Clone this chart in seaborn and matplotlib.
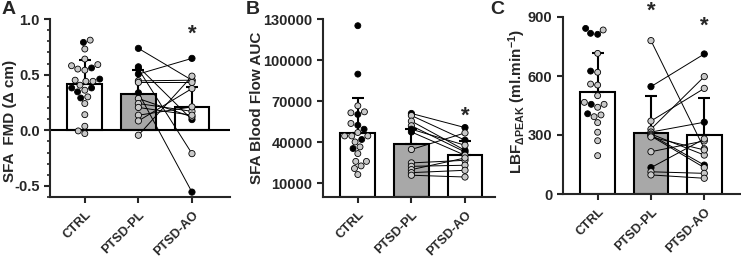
import numpy as np
import pandas as pd
import matplotlib
matplotlib.use("Agg")
import matplotlib.pyplot as plt
from matplotlib.ticker import MultipleLocator
import seaborn as sns

# --- data ---
groups = ["CTRL", "PTSD-PL", "PTSD-AO"]

# A: SFA FMD
a_ctrl = [0.79, 0.81, 0.73, 0.59, 0.54, 0.58, 0.64, 0.55, 0.56, 0.44, 0.45, 0.46, 0.44,
          0.38, 0.38, 0.36, 0.345, 0.29, 0.405, 0.30, 0.24, 0.14, 0.036, -0.006, -0.03]
a_ctrl_blk = [1, 0, 0, 0, 0, 0, 0, 0, 1, 0, 0, 1, 0,
              1, 1, 0, 1, 1, 0, 0, 0, 0, 0, 0, 0]
a_pl = [0.736, 0.57, 0.55, 0.505, 0.444, 0.43, 0.336, 0.285, 0.24, 0.205, 0.135, 0.084, -0.045]
a_pl_blk = [1, 1, 1, 1, 0, 0, 1, 0, 0, 0, 0, 0, 0]
a_ao = [0.45, 0.096, -0.21, 0.646, 0.45, 0.43, -0.556, 0.12, 0.17, 0.135, 0.21, 0.375, 0.486]
a_ao_blk = [1, 1, 0, 1, 0, 0, 1, 0, 0, 0, 0, 0, 0]
a_mean = [0.42, 0.33, 0.205]
a_sd = [0.21, 0.215, 0.185]

# B: SFA blood flow AUC
b_ctrl = [125100, 89750, 66600, 60300, 62200, 61500, 53700, 52400, 49500, 47100, 44600,
          44600, 44600, 42000, 40200, 36600, 35400, 31700, 26000, 26000, 22700, 20800, 16400]
b_ctrl_blk = [1, 1, 0, 1, 0, 0, 0, 1, 1, 0, 0,
              0, 0, 1, 0, 0, 1, 0, 0, 0, 0, 0, 0]
b_pl = [61000, 59500, 55400, 52000, 49500, 47500, 34700, 24900, 22400, 20000, 17800, 15900]
b_pl_blk = [1, 0, 0, 0, 1, 1, 0, 0, 0, 0, 0, 0]
b_ao = [50700, 41500, 34100, 32900, 37800, 30500, 46800, 26800, 23200, 28500, 19500, 14600]
b_ao_blk = [1, 1, 1, 1, 0, 0, 0, 0, 0, 0, 0, 0]
b_mean = [47100, 39000, 30500]
b_sd = [24900, 10500, 10500]

# C: LBF delta peak
c_ctrl = [842, 812, 834, 817, 715, 619, 625, 554, 559, 500, 466, 441, 456, 456,
          408, 393, 402, 363, 314, 271, 195]
c_ctrl_blk = [1, 1, 0, 1, 0, 0, 1, 0, 0, 0, 0, 0, 1, 0,
              1, 0, 0, 0, 0, 0, 0]
c_pl = [780, 546, 371, 330, 315, 305, 300, 295, 290, 215, 134, 113, 97]
c_pl_blk = [0, 1, 0, 0, 0, 0, 0, 0, 0, 0, 1, 0, 0]
c_ao = [230, 712, 537, 597, 365, 198, 147, 134, 224, 270, 280, 105, 80]
c_ao_blk = [0, 1, 0, 0, 1, 0, 1, 0, 0, 0, 0, 0, 0]
c_mean = [520, 312, 300]
c_sd = [195, 188, 190]

BAR_COLORS = ["white", "#a8a8a8", "white"]
DOT_COLORS = {"blk": "black", "gry": "#c8c8c8"}
TICK_FS = 10.5
XTICK_FS = 9.2
LABEL_FS = 11


def lab(flags):
    return ["blk" if f else "gry" for f in flags]


def draw_panel(ax, ctrl, ctrl_blk, pl, pl_blk, ao, ao_blk, means, sds):
    sns.barplot(x=groups, y=means, order=groups, hue=groups, palette=BAR_COLORS,
                legend=False, width=0.65, edgecolor="black", linewidth=1.5, ax=ax, zorder=1)
    xs = np.arange(len(groups))
    ax.errorbar(xs, means, yerr=[np.zeros(len(groups)), sds], fmt="none", ecolor="black",
                elinewidth=1.5, capsize=4, capthick=1.5, zorder=2)

    n = len(pl)
    pairs = pd.DataFrame({"pos": [groups.index("PTSD-PL")] * n + [groups.index("PTSD-AO")] * n,
                          "val": list(pl) + list(ao),
                          "subj": list(range(n)) * 2})
    sns.lineplot(data=pairs, x="pos", y="val", units="subj", estimator=None,
                 color="black", lw=0.7, ax=ax, zorder=3)

    pts = pd.DataFrame({"group": ["PTSD-PL"] * n + ["PTSD-AO"] * n,
                        "val": list(pl) + list(ao),
                        "sex": lab(pl_blk) + lab(ao_blk)})
    sns.stripplot(data=pts, x="group", y="val", hue="sex", order=groups, palette=DOT_COLORS,
                  jitter=False, size=4.5, edgecolor="black", linewidth=0.6, legend=False,
                  ax=ax, zorder=4)
    cdf = pd.DataFrame({"group": ["CTRL"] * len(ctrl), "val": ctrl, "sex": lab(ctrl_blk)})
    sns.swarmplot(data=cdf, x="group", y="val", hue="sex", order=groups, palette=DOT_COLORS,
                  size=4.3, edgecolor="black", linewidth=0.6, legend=False, ax=ax, zorder=4)

    ax.set_xticks(xs)
    ax.set_xticklabels(groups, rotation=45, ha="right", rotation_mode="anchor",
                       fontsize=XTICK_FS, fontweight="bold")
    ax.set_xlabel("")
    for s in ["top", "right"]:
        ax.spines[s].set_visible(False)
    for s in ["left", "bottom"]:
        ax.spines[s].set_linewidth(1.5)
    ax.tick_params(axis="both", which="major", length=4, width=1.5)
    ax.tick_params(axis="x", which="major", pad=4.5)
    ax.tick_params(axis="y", which="major", labelsize=TICK_FS)
    ax.tick_params(axis="y", which="minor", length=2.5, width=1.2)


sns.set_theme(style="ticks")
plt.rcParams["font.family"] = ["Liberation Sans", "DejaVu Sans"]
plt.rcParams["font.weight"] = "bold"
plt.rcParams["axes.labelweight"] = "bold"
plt.rcParams["mathtext.fontset"] = "custom"
plt.rcParams["mathtext.rm"] = "Liberation Sans:bold"
plt.rcParams["mathtext.bf"] = "Liberation Sans:bold"
plt.rcParams["mathtext.it"] = "Liberation Sans:bold"

fig = plt.figure(figsize=(7.41, 2.59), dpi=100)
W, H = 741, 259

# Panel A
axA = fig.add_axes([50 / W, 1 - 197 / H, 180 / W, 178 / H])
draw_panel(axA, a_ctrl, a_ctrl_blk, a_pl, a_pl_blk, a_ao, a_ao_blk, a_mean, a_sd)
axA.axhline(0, color="black", lw=1.5, zorder=1.5)
axA.set_ylim(-0.6, 1.0)
axA.set_xlim(-0.65, 2.71)
axA.set_yticks([-0.5, 0.0, 0.5, 1.0])
axA.set_yticklabels(["-0.5", "0.0", "0.5", "1.0"], fontweight="bold", fontsize=TICK_FS)
axA.yaxis.set_minor_locator(MultipleLocator(0.1))
axA.set_ylabel("SFA  FMD (\u0394 cm)", fontsize=LABEL_FS, fontweight="bold")
axA.yaxis.set_label_coords(-0.185, 0.43)
axA.text(2, 0.865, "*", ha="center", va="center", fontsize=16, fontweight="bold")

# Panel B
axB = fig.add_axes([323 / W, 1 - 197 / H, 172 / W, 178 / H])
draw_panel(axB, b_ctrl, b_ctrl_blk, b_pl, b_pl_blk, b_ao, b_ao_blk, b_mean, b_sd)
axB.set_ylim(0, 130000)
axB.set_xlim(-0.65, 2.56)
axB.set_yticks([10000, 40000, 70000, 100000, 130000])
axB.set_yticklabels(["10000", "40000", "70000", "100000", "130000"], fontweight="bold",
                    fontsize=TICK_FS)
axB.set_ylabel("SFA Blood Flow AUC", fontsize=LABEL_FS, fontweight="bold")
axB.yaxis.set_label_coords(-0.345, 0.5)
axB.text(2, 59000, "*", ha="center", va="center", fontsize=16, fontweight="bold")

# Panel C
axC = fig.add_axes([563 / W, 1 - 194 / H, 177 / W, 177 / H])
draw_panel(axC, c_ctrl, c_ctrl_blk, c_pl, c_pl_blk, c_ao, c_ao_blk, c_mean, c_sd)
axC.set_ylim(0, 900)
axC.set_xlim(-0.65, 2.67)
axC.set_yticks([0, 300, 600, 900])
axC.set_yticklabels(["0", "300", "600", "900"], fontweight="bold", fontsize=TICK_FS)
axC.set_ylabel(r"LBF$_{\Delta\mathrm{PEAK}}$ (ml.min$^{-1}$)", fontsize=LABEL_FS,
               fontweight="bold")
axC.yaxis.set_label_coords(-0.2, 0.52)
axC.text(1, 928, "*", ha="center", va="center", fontsize=16, fontweight="bold", clip_on=False)
axC.text(2, 855, "*", ha="center", va="center", fontsize=16, fontweight="bold")

for lbl, x in [("A", 2), ("B", 246), ("C", 490)]:
    fig.text(x / W, 1 - 1 / H, lbl, fontsize=14, fontweight="bold", va="top", ha="left")

fig.savefig("out.png", dpi=100)
